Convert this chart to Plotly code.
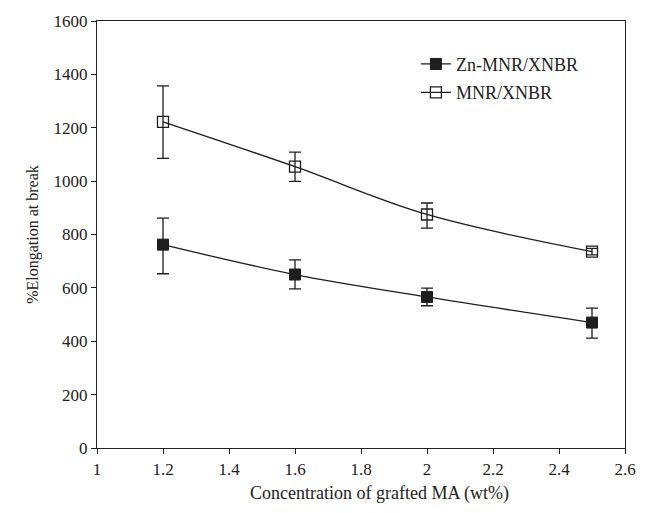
import plotly.graph_objects as go

conc = [1.2, 1.6, 2.0, 2.5]
zn_vals = [762, 650, 566, 470]
zn_err_plus = [99, 55, 33, 54]
zn_err_minus = [109, 54, 33, 58]
mnr_vals = [1222, 1054, 875, 736]
mnr_err_plus = [135, 55, 43, 12]
mnr_err_minus = [137, 55, 51, 12]
x_ticks = [1, 1.2, 1.4, 1.6, 1.8, 2, 2.2, 2.4, 2.6]
x_tick_labels = ["1", "1.2", "1.4", "1.6", "1.8", "2", "2.2", "2.4", "2.6"]
y_ticks = [0, 200, 400, 600, 800, 1000, 1200, 1400, 1600]
x_title = "Concentration of grafted MA (wt%)"
y_title = "%Elongation at break"

font = "Liberation Serif, Times New Roman, serif"
ink = "#1e1e1e"

fig = go.Figure()
fig.add_trace(go.Scatter(
    x=conc, y=zn_vals, name="Zn-MNR/XNBR", mode="lines+markers", legendgroup="a",
    line=dict(color=ink, width=1.3, shape="spline"),
    marker=dict(symbol="square", size=11, color=ink, line=dict(color=ink, width=1)),
    error_y=dict(type="data", symmetric=False, array=zn_err_plus, arrayminus=zn_err_minus,
                 color=ink, thickness=1.3, width=6),
))
fig.add_trace(go.Scatter(
    x=conc, y=mnr_vals, name="MNR/XNBR", mode="lines+markers", legendgroup="b",
    line=dict(color=ink, width=1.3, shape="spline"),
    marker=dict(symbol="square-open", size=11, color=ink, line=dict(color=ink, width=1.3)),
    error_y=dict(type="data", symmetric=False, array=mnr_err_plus, arrayminus=mnr_err_minus,
                 color=ink, thickness=1.3, width=6),
))

fig.add_annotation(text=x_title, xref="paper", yref="paper", x=0.535, y=0,
                   xanchor="center", yanchor="top", yshift=-33, showarrow=False,
                   font=dict(size=18, family=font, color="#222"))

fig.update_layout(
    width=648, height=513,
    margin=dict(l=97, r=15, t=20, b=65),
    paper_bgcolor="white", plot_bgcolor="white",
    font=dict(family=font, size=17, color="#222"),
    showlegend=True,
    legend=dict(x=0.604, y=0.942, xanchor="left", yanchor="top",
                bgcolor="rgba(0,0,0,0)", font=dict(size=18, family=font),
                itemwidth=30, tracegroupgap=2),
    xaxis=dict(range=[1, 2.6], tickvals=x_ticks, ticktext=x_tick_labels,
               showgrid=False, zeroline=False, showline=True, linecolor="#222",
               linewidth=1.4, mirror=True, ticks="outside", ticklen=5, tickcolor="#222",
               tickfont=dict(size=17), ticklabeloverflow="allow"),
    yaxis=dict(range=[0, 1600], tickvals=y_ticks,
               showgrid=False, zeroline=False, showline=True, linecolor="#222",
               linewidth=1.4, mirror=True, ticks="outside", ticklen=5, tickcolor="#222",
               tickfont=dict(size=17),
               title=dict(text=y_title, standoff=10, font=dict(size=16))),
)

fig.write_html("out.html", config={"displayModeBar": False},
               post_script="document.body.style.margin='0px';document.body.style.overflow='hidden';")
